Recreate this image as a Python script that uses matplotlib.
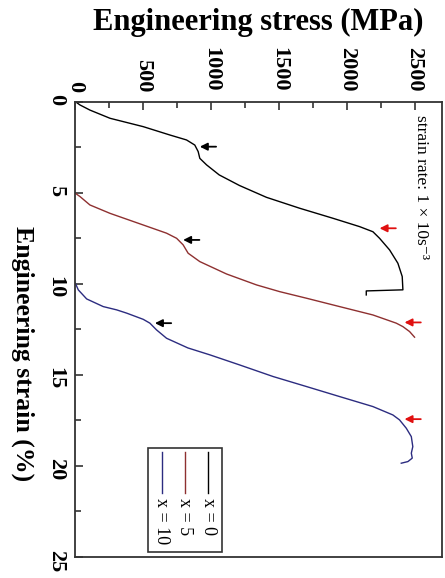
import matplotlib
matplotlib.use("Agg")
import matplotlib.pyplot as plt

plt.rcParams['font.family'] = ['Liberation Serif', 'DejaVu Serif']

# x = 0
strain_x0 = [0, 0.18, 0.46, 0.91, 1.37, 1.83, 2.10, 2.38, 2.74, 3.11, 3.47, 4.02, 4.6,
             5.25, 5.85, 6.40, 6.86, 7.14, 7.50, 8.14, 8.87, 9.60, 10.33, 10.39, 10.61]
stress_x0 = [0, 34, 107, 255, 500, 697, 819, 880, 905, 917, 967, 1060, 1209,
             1408, 1653, 1898, 2095, 2193, 2242, 2316, 2377, 2409, 2414, 2144, 2144]

# x = 5
strain_x5 = [5.03, 5.21, 5.67, 6.13, 6.77, 7.22, 7.50, 7.86, 8.32, 8.78, 9.46, 10.06,
             10.43, 10.79, 11.25, 11.71, 12.16, 12.35, 12.62, 12.93]
stress_x5 = [0, 34, 107, 255, 500, 672, 746, 794, 831, 917, 1114, 1335,
             1506, 1703, 1947, 2193, 2365, 2414, 2463, 2500]

# x = 10
strain_x10 = [9.97, 10.33, 10.83, 11.25, 11.43, 11.61, 11.95, 12.16, 12.53, 12.99, 13.52,
              13.90, 14.45, 15.09, 15.64, 16.19, 16.74, 17.20, 17.47, 17.93, 18.39,
              18.94, 19.30, 19.57, 19.76, 19.85]
stress_x10 = [0, 21, 83, 205, 304, 378, 500, 549, 598, 672, 829,
              991, 1209, 1457, 1703, 1947, 2193, 2340, 2389, 2439, 2476,
              2487, 2476, 2483, 2451, 2402]

# arrows: (strain, stress) of tip
black_marks = [(2.47, 917), (7.59, 794), (12.16, 586)]
red_marks = [(6.95, 2242), (12.12, 2426), (17.43, 2426)]

labels = ['x = 0', 'x = 5', 'x = 10']
colors = ['#000000', '#8e3030', '#2c2c80']

fig = plt.figure(figsize=(4.45, 5.78), dpi=100)
ax = fig.add_axes([75.4 / 445, 1 - 557 / 578, (441.7 - 75.4) / 445, (557 - 101.7) / 578])

ax.plot(stress_x0, strain_x0, color=colors[0], lw=1.0)
ax.plot(stress_x5, strain_x5, color=colors[1], lw=1.0)
ax.plot(stress_x10, strain_x10, color=colors[2], lw=1.0)

for marks, c in [(black_marks, 'black'), (red_marks, '#e01010')]:
    for s, st in marks:
        ax.annotate('', xy=(st, s), xytext=(st + 120, s),
                    arrowprops=dict(arrowstyle='-|>', color=c, lw=1.3,
                                    mutation_scale=11, shrinkA=0, shrinkB=0))

ax.set_xlim(0, 2700)
ax.set_ylim(25, 0)
ax.xaxis.tick_top()
ax.set_xticks(range(0, 2501, 500))
ax.set_xticks(range(0, 2701, 250), minor=True)
ax.set_yticks(range(0, 26, 5))
ax.set_yticks([i * 2.5 for i in range(11)], minor=True)
ax.tick_params(which='both', direction='in', top=True, bottom=False, left=True, right=False,
               width=1.2, color='#333333')
ax.tick_params(which='major', length=6, pad=7, labelsize=16)
ax.tick_params(which='minor', length=4)
for lab in ax.get_xticklabels() + ax.get_yticklabels():
    lab.set_rotation(-90)
    lab.set_fontweight('bold')
for sp in ax.spines.values():
    sp.set_linewidth(1.3)
    sp.set_color('#333333')

ax.set_xlabel('Engineering stress (MPa)', fontsize=22, fontweight='bold')
ax.xaxis.set_label_position('top')
ax.xaxis.set_label_coords(0.5, 1.173)
ax.xaxis.label.set_va('center')
ax.set_ylabel('Engineering strain (%)', fontsize=18.5, fontweight='bold', rotation=-90)
ax.yaxis.set_label_coords(-0.143, 0.446)
ax.yaxis.label.set_va('center')

ax.text(2544, 0.73, 'strain rate: 1 × 10s⁻³', rotation=-90, ha='center', va='top', fontsize=12.5)

# legend drawn rotated by hand
ax.add_patch(plt.Rectangle((0.199, 0.012), 0.2, 0.227, transform=ax.transAxes,
                           fill=False, lw=1.2, ec='#333333'))
for xf, lab, c in zip([0.3628, 0.2992, 0.2356], labels, colors):
    ax.plot([xf, xf], [0.2313, 0.140], transform=ax.transAxes, color=c, lw=1.0)
    ax.text(xf, 0.1296, lab, transform=ax.transAxes, rotation=-90,
            ha='center', va='top', fontsize=13)

fig.savefig('out.png', dpi=100)
